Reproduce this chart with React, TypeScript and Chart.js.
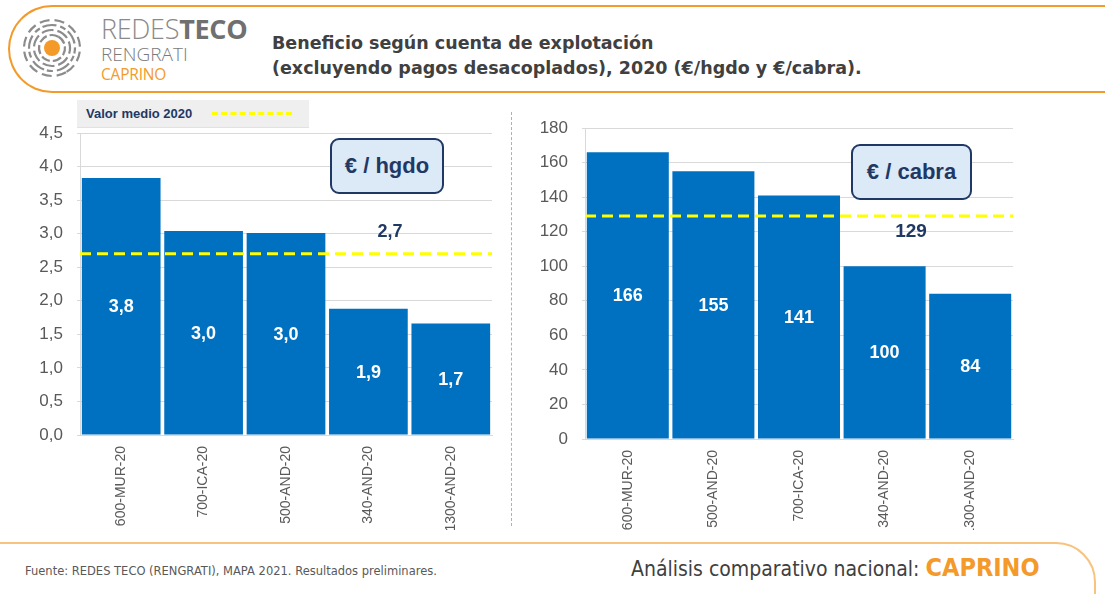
import React, { useEffect, useRef } from "react";
import { Chart, registerables } from "chart.js";

Chart.register(...registerables);

// ---------- DATA ----------
const categoriesLeft = ["600-MUR-20", "700-ICA-20", "500-AND-20", "340-AND-20", "1300-AND-20"];
const valuesLeft = [3.83, 3.04, 3.01, 1.88, 1.66];
const meanLeft = 2.7;
const yMaxLeft = 4.5;
const yStepLeft = 0.5;

const categoriesRight = ["600-MUR-20", "500-AND-20", "700-ICA-20", "340-AND-20", "1300-AND-20"];
const valuesRight = [166, 155, 141, 100, 84];
const meanRight = 129;
const yMaxRight = 180;
const yStepRight = 20;

const BLUE = "#0070C0";
const NAVY = "#1F3864";
const ORANGE = "#F39A2B";
const ARIAL = "'Liberation Sans', Arial, sans-serif";

type Cfg = {
  labels: string[];
  values: number[];
  mean: number;
  yMax: number;
  step: number;
  decimals: number;
  yWidth: number;
  xHeight: number;
  padTop: number;
  padRight: number;
  tickPad: number;
  xPad: number;
  barPct: number;
};

const fmt = (v: number, d: number) => v.toFixed(d).replace(".", ",");

function BarChart({ cfg, style }: { cfg: Cfg; style: React.CSSProperties }) {
  const ref = useRef<HTMLCanvasElement | null>(null);
  useEffect(() => {
    if (!ref.current) return;
    const overlay = {
      id: "overlay",
      afterDatasetsDraw(chart: any) {
        const ctx = chart.ctx;
        const area = chart.chartArea;
        const y = chart.scales.y.getPixelForValue(cfg.mean);
        ctx.save();
        ctx.strokeStyle = "#FFFF00";
        ctx.lineWidth = 3;
        ctx.setLineDash([11, 6]);
        ctx.beginPath();
        ctx.moveTo(area.left, y);
        ctx.lineTo(area.right, y);
        ctx.stroke();
        ctx.setLineDash([]);
        const meta = chart.getDatasetMeta(0);
        ctx.fillStyle = "#FFFFFF";
        ctx.font = `bold 18px ${ARIAL}`;
        ctx.textAlign = "center";
        ctx.textBaseline = "middle";
        meta.data.forEach((bar: any, i: number) => {
          const cy = (bar.y + bar.base) / 2;
          ctx.fillText(fmt(cfg.values[i], cfg.decimals), bar.x, cy + 1);
        });
        ctx.restore();
      },
    };
    const chart = new Chart(ref.current, {
      type: "bar",
      data: {
        labels: cfg.labels,
        datasets: [
          {
            data: cfg.values,
            backgroundColor: BLUE,
            barPercentage: cfg.barPct,
            categoryPercentage: 1,
          },
        ],
      },
      options: {
        animation: false,
        responsive: false,
        maintainAspectRatio: false,
        layout: { padding: { top: cfg.padTop, right: cfg.padRight, left: 0, bottom: 0 } },
        plugins: { legend: { display: false }, tooltip: { enabled: false } },
        scales: {
          x: {
            grid: { display: false },
            border: { display: true, color: "#d9d9d9" },
            ticks: {
              color: "#595959",
              font: { family: ARIAL, size: 14 },
              minRotation: 90,
              maxRotation: 90,
              padding: cfg.xPad,
              autoSkip: false,
            },
            afterFit: (s: any) => {
              s.height = cfg.xHeight;
            },
          },
          y: {
            min: 0,
            max: cfg.yMax,
            grid: { color: "#d9d9d9", tickLength: 3, lineWidth: 1 },
            border: { display: true, color: "#d9d9d9" },
            ticks: {
              stepSize: cfg.step,
              color: "#595959",
              font: { family: ARIAL, size: 17 },
              padding: cfg.tickPad,
              callback: (v: any) => fmt(Number(v), cfg.decimals),
            },
            afterFit: (s: any) => {
              s.width = cfg.yWidth;
            },
          },
        },
      },
      plugins: [overlay],
    });
    return () => chart.destroy();
  }, []);
  const w = style.width as number;
  const h = style.height as number;
  return <canvas ref={ref} width={w} height={h} style={{ position: "absolute", ...style }} />;
}

function Logo() {
  const rings = [
    { r: 13, dash: "9 3" },
    { r: 18, dash: "12 4" },
    { r: 23, dash: "6 3 14 4" },
    { r: 28, dash: "10 5" },
  ];
  return (
    <svg width={70} height={70} style={{ position: "absolute", left: 17, top: 13 }}>
      {rings.map((g, i) => (
        <circle
          key={i}
          cx={35}
          cy={35}
          r={g.r}
          fill="none"
          stroke="#8c8c8c"
          strokeWidth={2.2}
          strokeDasharray={g.dash}
          transform={`rotate(${i * 40 - 60} 35 35)`}
        />
      ))}
      <circle cx={35} cy={35} r={8} fill={ORANGE} />
    </svg>
  );
}

export default function App() {
  const leftCfg: Cfg = {
    labels: categoriesLeft,
    values: valuesLeft,
    mean: meanLeft,
    yMax: yMaxLeft,
    step: yStepLeft,
    decimals: 1,
    yWidth: 80,
    xHeight: 95,
    padTop: 33,
    padRight: 13,
    tickPad: 14,
    xPad: 3,
    barPct: 0.955,
  };
  const rightCfg: Cfg = {
    labels: categoriesRight,
    values: valuesRight,
    mean: meanRight,
    yMax: yMaxRight,
    step: yStepRight,
    decimals: 0,
    yWidth: 70,
    xHeight: 91,
    padTop: 28,
    padRight: 17,
    tickPad: 14,
    xPad: 3,
    barPct: 0.958,
  };
  return (
    <div
      style={{
        position: "absolute",
        left: 0,
        top: 0,
        width: 1112,
        height: 594,
        background: "#ffffff",
        overflow: "hidden",
        fontFamily: ARIAL,
      }}
    >
      {/* header frame */}
      <div
        style={{
          position: "absolute",
          left: 8,
          top: 5,
          width: 1095,
          height: 84,
          border: `2px solid ${ORANGE}`,
          borderRight: "none",
          borderRadius: "44px 0 0 44px",
        }}
      />
      <Logo />
      <div style={{ position: "absolute", left: 101, top: 13, fontFamily: "'Open Sans', sans-serif", fontSize: 27, lineHeight: "32px", color: "#8a8a8a", letterSpacing: -0.3, whiteSpace: "nowrap" }}>
        <span style={{ fontWeight: 300 }}>REDES</span>
        <span style={{ fontWeight: 700, color: "#707070" }}>TECO</span>
      </div>
      <div style={{ position: "absolute", left: 101, top: 43, fontFamily: "'Open Sans', sans-serif", fontSize: 19, lineHeight: "22px", color: "#7a7a7a", fontWeight: 300, whiteSpace: "nowrap" }}>
        RENGRATI
      </div>
      <div style={{ position: "absolute", left: 101, top: 65, fontFamily: "'Open Sans', sans-serif", fontSize: 15.5, lineHeight: "18px", color: ORANGE, letterSpacing: -0.2 }}>
        CAPRINO
      </div>
      <div style={{ position: "absolute", left: 272, top: 31, fontFamily: "'DejaVu Sans', sans-serif", fontWeight: 700, fontSize: 17.5, lineHeight: "25px", color: "#404040", whiteSpace: "nowrap" }}>
        Beneficio según cuenta de explotación
        <br />
        (excluyendo pagos desacoplados), 2020 (€/hgdo y €/cabra).
      </div>

      {/* divider */}
      <div style={{ position: "absolute", left: 511, top: 112, width: 0, height: 414, borderLeft: "1px dashed #b0b0b0" }} />

      <BarChart cfg={leftCfg} style={{ left: 0, top: 100, width: 505, height: 430 }} />
      <BarChart cfg={rightCfg} style={{ left: 515, top: 100, width: 515, height: 430 }} />

      {/* legend */}
      <div style={{ position: "absolute", left: 77, top: 100, width: 232, height: 27, background: "#efefef", borderBottom: "1px solid #e2e2e2" }}>
        <span style={{ position: "absolute", left: 9, top: 6, fontSize: 13, fontWeight: 700, color: NAVY }}>Valor medio 2020</span>
        <div style={{ position: "absolute", left: 135, top: 12, width: 80, height: 0, borderTop: "3px dashed #FFFF00" }} />
      </div>

      {/* unit boxes */}
      <div style={{ position: "absolute", left: 330, top: 138, width: 110, height: 52, background: "#DCE9F7", border: `2px solid ${NAVY}`, borderRadius: 9, color: NAVY, fontWeight: 700, fontSize: 22, lineHeight: "52px", textAlign: "center" }}>
        € / hgdo
      </div>
      <div style={{ position: "absolute", left: 851, top: 144, width: 117, height: 52, background: "#DCE9F7", border: `2px solid ${NAVY}`, borderRadius: 9, color: NAVY, fontWeight: 700, fontSize: 22, lineHeight: "52px", textAlign: "center" }}>
        € / cabra
      </div>

      {/* mean labels */}
      <div style={{ position: "absolute", left: 360, top: 221, width: 60, textAlign: "center", color: NAVY, fontWeight: 700, fontSize: 18 }}>
        {fmt(meanLeft, 1)}
      </div>
      <div style={{ position: "absolute", left: 881, top: 220, width: 60, textAlign: "center", color: NAVY, fontWeight: 700, fontSize: 19 }}>
        {fmt(meanRight, 0)}
      </div>

      {/* footer */}
      <div
        style={{
          position: "absolute",
          left: -40,
          top: 542,
          width: 1132,
          height: 110,
          border: "2px solid #F8C27F",
          borderRadius: "0 40px 0 0",
        }}
      />
      <div style={{ position: "absolute", left: 25, top: 564, fontFamily: "'DejaVu Sans', sans-serif", fontSize: 11.5, lineHeight: "14px", color: "#595959", whiteSpace: "nowrap" }}>
        Fuente: REDES TECO (RENGRATI), MAPA 2021. Resultados preliminares.
      </div>
      <div style={{ position: "absolute", left: 631, top: 553, fontFamily: "'DejaVu Sans Condensed', sans-serif", fontSize: 21, lineHeight: "30px", color: "#404040", whiteSpace: "nowrap" }}>
        Análisis comparativo nacional: <span style={{ color: ORANGE, fontWeight: 700, fontSize: 25 }}>CAPRINO</span>
      </div>
    </div>
  );
}
